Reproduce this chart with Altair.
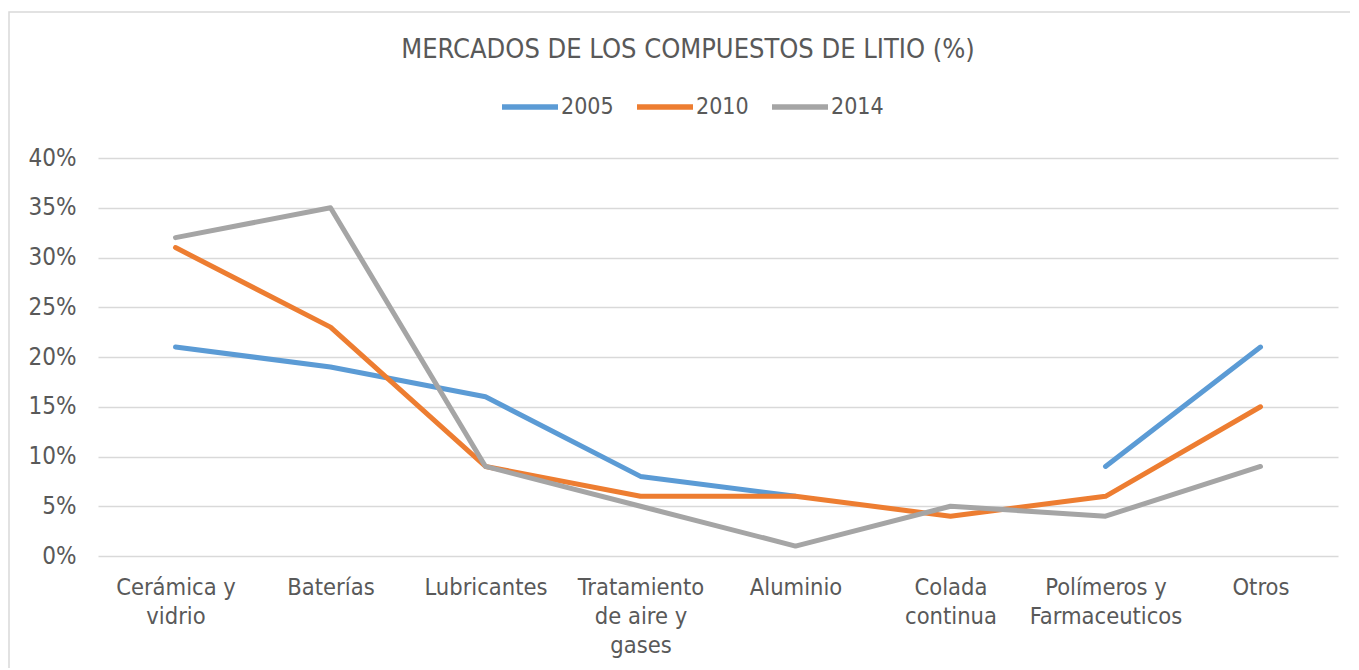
import altair as alt
import pandas as pd
import json

categories = ["Cerámica y vidrio", "Baterías", "Lubricantes", "Tratamiento de aire y gases",
              "Aluminio", "Colada continua", "Polímeros y Farmaceuticos", "Otros"]
label_lines = [["Cerámica y", "vidrio"], ["Baterías"], ["Lubricantes"],
               ["Tratamiento", "de aire y", "gases"], ["Aluminio"], ["Colada", "continua"],
               ["Polímeros y", "Farmaceuticos"], ["Otros"]]
years = ["2005", "2010", "2014"]
v2005 = [21, 19, 16, 8, 6, None, 9, 21]
v2010 = [31, 23, 9, 6, 6, 4, 6, 15]
v2014 = [32, 35, 9, 5, 1, 5, 4, 9]
colors = ["#5B9BD5", "#ED7D31", "#A5A5A5"]
y_ticks = [0, 5, 10, 15, 20, 25, 30, 35, 40]
title_text = "MERCADOS DE LOS COMPUESTOS DE LITIO (%)"

rows = []
for yr, vals in zip(years, [v2005, v2010, v2014]):
    for c, v in zip(categories, vals):
        rows.append({"categoria": c, "serie": yr, "valor": v})
df = pd.DataFrame(rows)

FONT = "DejaVu Sans Condensed"
TXT = "#595959"

label_expr = (f"{json.dumps(label_lines, ensure_ascii=False)}"
              f"[indexof({json.dumps(categories, ensure_ascii=False)}, datum.label)]")

lines = alt.Chart(df).mark_line(strokeWidth=5, strokeCap="round", strokeJoin="round",
                                invalid="break-paths-show-domains").encode(
    x=alt.X("categoria:N", sort=categories, title=None,
            scale=alt.Scale(type="point", padding=0.5),
            axis=alt.Axis(labelAngle=0, domain=False, ticks=False, labelExpr=label_expr,
                          labelFont=FONT, labelColor=TXT,
                          labelFontSize=23.5, labelLineHeight=29, labelPadding=19,
                          labelOverlap=False, labelBound=False, labelLimit=300,
                          labelBaseline="top")),
    y=alt.Y("valor:Q", title=None, scale=alt.Scale(domain=[0, 40], nice=False, zero=True),
            axis=alt.Axis(values=y_ticks, labelExpr="datum.value + '%'", domain=False,
                          ticks=False, grid=True, gridColor="#D9D9D9", gridWidth=1.5,
                          labelFont=FONT, labelColor=TXT,
                          labelFontSize=24, labelPadding=22)),
    color=alt.Color("serie:N", sort=years,
                    scale=alt.Scale(domain=years, range=colors),
                    legend=alt.Legend(title=None, orient="none", direction="horizontal",
                                      legendX=401, legendY=-82, symbolType="stroke",
                                      symbolStrokeWidth=5.5, symbolSize=3136,
                                      labelFontSize=23, labelOffset=0, columnPadding=12,
                                      labelColor=TXT, labelFont=FONT)),
)

border_df = pd.DataFrame({"b": [0]})
border = alt.Chart(border_df).mark_rect(fill=None, stroke="#D9D9D9", strokeWidth=1.5).encode(
    x=alt.value(-89), x2=alt.value(1320), y=alt.value(-146), y2=alt.value(640)
)

chart = alt.layer(border, lines).properties(
    width=1240, height=398,
    title=alt.TitleParams(title_text, anchor="middle", frame="group", fontSize=27,
                          font=FONT, color=TXT, fontWeight="normal", baseline="alphabetic",
                          offset=-74, dx=-30),
    autosize=alt.AutoSizeParams(type="none"),
    padding={"left": 90, "top": 150, "right": 12, "bottom": 112},
).configure(background="white").configure_view(stroke=None)

chart.save("out.html", embed_options={"renderer": "svg", "actions": False})
